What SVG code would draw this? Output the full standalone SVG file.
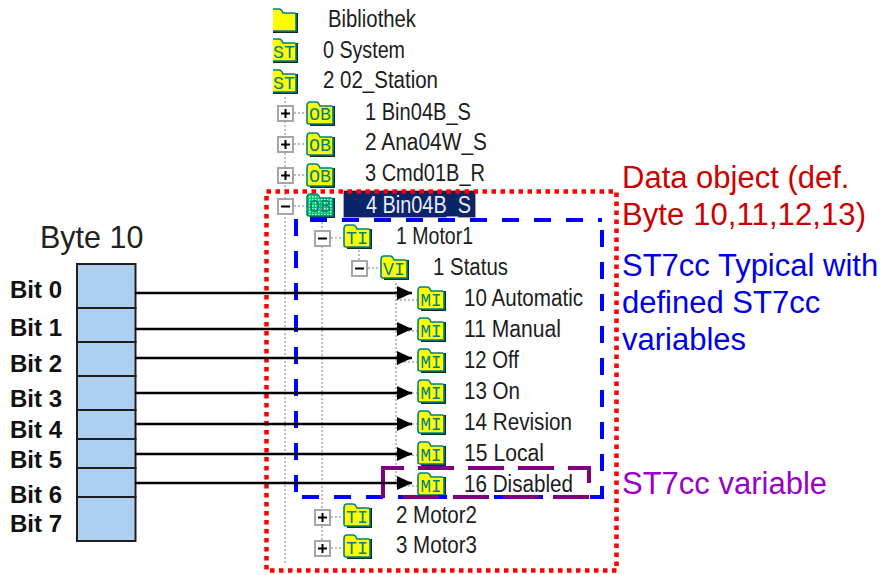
<svg xmlns="http://www.w3.org/2000/svg" width="880" height="575" viewBox="0 0 880 575">
<style>
text{font-family:"Liberation Sans",Arial,sans-serif}
.t{font-size:23px;fill:#1c1c1c}
.il{font-family:"Liberation Mono",monospace;font-size:19px;fill:#008080;text-anchor:middle;transform:translateY(-1.500px)}
.bit{font-size:24px;font-weight:bold;fill:#111}
.cell{fill:#aed0f0;stroke:#1e1e1e;stroke-width:2}
.big{font-size:31px}
.dot{stroke:#a8a8a8;stroke-width:1.5;stroke-dasharray:2 2;fill:none}
.box{fill:#fff;stroke:#a6a6a6;stroke-width:2}
.sign{stroke:#000;stroke-width:2;fill:none}
.conn{stroke:#000;stroke-width:2.500;fill:none;marker-end:url(#arr)}
.blue{stroke:#0000ff;stroke-width:4;fill:none;stroke-dasharray:17 15}
.pur{stroke:#800080;stroke-width:4;fill:none;stroke-dasharray:36 14}
</style>
<defs>
<marker id="arr" markerUnits="userSpaceOnUse" markerWidth="16" markerHeight="16" refX="15" refY="7" orient="auto"><path d="M0 0L15 7L0 14Z" fill="#000"/></marker>
<g id="folder">
<path d="M27 5H29V25H4V23H27Z" fill="#062f2f"/>
<path d="M1 5Q1 1 4 1H10Q12 1 13 3L14 5H25Q27 5 27 7V23H3Q1 23 1 21Z" fill="#ffff00" stroke="#008080" stroke-width="1.6"/>
</g>
<pattern id="dith" width="3" height="3" patternUnits="userSpaceOnUse"><rect width="3" height="3" fill="#00c864"/><rect width="1.5" height="1.5" fill="#d8ffe8"/></pattern>
<g id="folderG">
<path d="M27 5H29V25H4V23H27Z" fill="#062f2f"/>
<path d="M1 5Q1 1 4 1H10Q12 1 13 3L14 5H25Q27 5 27 7V23H3Q1 23 1 21Z" fill="url(#dith)" stroke="#008080" stroke-width="1.6"/>
</g>
<clipPath id="cl"><rect x="273" y="0" width="30" height="100"/></clipPath>
</defs>
<rect width="880" height="575" fill="#fff"/>

<g id="tree-lines" class="dot">
<path d="M285 97V563M322 218V541M359 250V262M396 283V484"/>
<path d="M294 113H307M294 144H307M294 175H307M294 206H307M331 238H343M368 268H380M331 517H343M331 548H343M396 300H417M396 331H417M396 362H417M396 393H417M396 424H417M396 455H417M396 486H417"/>
</g>

<g id="n-bibliothek" clip-path="url(#cl)"><use href="#folder" x="269" y="8"/></g>
<g id="n-bibliothek-label"><text class="t" x="328" y="27" textLength="88" lengthAdjust="spacingAndGlyphs">Bibliothek</text></g>
<g id="n-system"><g clip-path="url(#cl)"><use href="#folder" x="269" y="38"/><text class="il" x="284" y="59" textLength="22" lengthAdjust="spacingAndGlyphs">ST</text></g><text class="t" x="323" y="58" textLength="82" lengthAdjust="spacingAndGlyphs">0 System</text></g>
<g id="n-station"><g clip-path="url(#cl)"><use href="#folder" x="269" y="69"/><text class="il" x="284" y="90" textLength="22" lengthAdjust="spacingAndGlyphs">ST</text></g><text class="t" x="323" y="88" textLength="115" lengthAdjust="spacingAndGlyphs">2 02_Station</text></g>

<g id="n-bin04b-s-1"><rect class="box" x="278" y="106" width="15" height="15"/><path class="sign" d="M281 113.500H290M285.500 109V118"/><use href="#folder" x="306" y="101"/><text class="il" x="320" y="121" textLength="22" lengthAdjust="spacingAndGlyphs">OB</text><text class="t" x="365" y="120" textLength="106" lengthAdjust="spacingAndGlyphs">1 Bin04B_S</text></g>
<g id="n-ana04w-s"><rect class="box" x="278" y="137" width="15" height="15"/><path class="sign" d="M281 144.500H290M285.500 140V149"/><use href="#folder" x="306" y="132"/><text class="il" x="320" y="152" textLength="22" lengthAdjust="spacingAndGlyphs">OB</text><text class="t" x="365" y="150" textLength="122" lengthAdjust="spacingAndGlyphs">2 Ana04W_S</text></g>
<g id="n-cmd01b-r"><rect class="box" x="278" y="168" width="15" height="15"/><path class="sign" d="M281 175.500H290M285.500 171V180"/><use href="#folder" x="306" y="163"/><text class="il" x="320" y="183" textLength="22" lengthAdjust="spacingAndGlyphs">OB</text><text class="t" x="365" y="181" textLength="120" lengthAdjust="spacingAndGlyphs">3 Cmd01B_R</text></g>
<g id="n-bin04b-s-4"><rect class="box" x="278" y="199" width="15" height="15"/><path class="sign" d="M281 206.500H290"/><use href="#folderG" x="306" y="193"/><text class="il" x="320" y="213" textLength="22" lengthAdjust="spacingAndGlyphs">OB</text><rect x="343.500" y="190.500" width="132" height="27" fill="#0a246a" stroke="#d8c070" stroke-width="1" stroke-dasharray="1 1"/><text class="t" x="366" y="213" textLength="105" lengthAdjust="spacingAndGlyphs" style="fill:#e8ecf6">4 Bin04B_S</text></g>
<g id="n-motor1"><rect class="box" x="315" y="231" width="15" height="15"/><path class="sign" d="M318 238.500H327"/><use href="#folder" x="343" y="224"/><text class="il" x="357" y="245" textLength="22" lengthAdjust="spacingAndGlyphs">TI</text><text class="t" x="396" y="244" textLength="77" lengthAdjust="spacingAndGlyphs">1 Motor1</text></g>
<g id="n-status"><rect class="box" x="352" y="261" width="15" height="15"/><path class="sign" d="M355 268.500H364"/><use href="#folder" x="380" y="255"/><text class="il" x="394" y="276" textLength="22" lengthAdjust="spacingAndGlyphs">VI</text><text class="t" x="433" y="275" textLength="75" lengthAdjust="spacingAndGlyphs">1 Status</text></g>
<g id="n-automatic"><use href="#folder" x="417" y="286"/><text class="il" x="431" y="307" textLength="21" lengthAdjust="spacingAndGlyphs">MI</text><text class="t" x="464" y="306" textLength="119" lengthAdjust="spacingAndGlyphs">10 Automatic</text></g>
<g id="n-manual"><use href="#folder" x="417" y="317"/><text class="il" x="431" y="338" textLength="21" lengthAdjust="spacingAndGlyphs">MI</text><text class="t" x="464" y="337" textLength="97" lengthAdjust="spacingAndGlyphs">11 Manual</text></g>
<g id="n-off"><use href="#folder" x="417" y="348"/><text class="il" x="431" y="369" textLength="21" lengthAdjust="spacingAndGlyphs">MI</text><text class="t" x="464" y="368" textLength="55" lengthAdjust="spacingAndGlyphs">12 Off</text></g>
<g id="n-on"><use href="#folder" x="417" y="379"/><text class="il" x="431" y="400" textLength="21" lengthAdjust="spacingAndGlyphs">MI</text><text class="t" x="464" y="399" textLength="56" lengthAdjust="spacingAndGlyphs">13 On</text></g>
<g id="n-revision"><use href="#folder" x="417" y="410"/><text class="il" x="431" y="431" textLength="21" lengthAdjust="spacingAndGlyphs">MI</text><text class="t" x="464" y="430" textLength="108" lengthAdjust="spacingAndGlyphs">14 Revision</text></g>
<g id="n-local"><use href="#folder" x="417" y="441"/><text class="il" x="431" y="462" textLength="21" lengthAdjust="spacingAndGlyphs">MI</text><text class="t" x="464" y="461" textLength="80" lengthAdjust="spacingAndGlyphs">15 Local</text></g>
<g id="n-disabled"><use href="#folder" x="417" y="472"/><text class="il" x="431" y="493" textLength="21" lengthAdjust="spacingAndGlyphs">MI</text><text class="t" x="464" y="492" textLength="109" lengthAdjust="spacingAndGlyphs">16 Disabled</text></g>
<g id="n-motor2"><rect class="box" x="315" y="510" width="15" height="15"/><path class="sign" d="M318 517.500H327M322.500 513V522"/><use href="#folder" x="343" y="503"/><text class="il" x="357" y="524" textLength="22" lengthAdjust="spacingAndGlyphs">TI</text><text class="t" x="396" y="523" textLength="81" lengthAdjust="spacingAndGlyphs">2 Motor2</text></g>
<g id="n-motor3"><rect class="box" x="315" y="541" width="15" height="15"/><path class="sign" d="M318 548.500H327M322.500 544V553"/><use href="#folder" x="343" y="534"/><text class="il" x="357" y="555" textLength="22" lengthAdjust="spacingAndGlyphs">TI</text><text class="t" x="396" y="553" textLength="81" lengthAdjust="spacingAndGlyphs">3 Motor3</text></g>

<g id="byte10">
<text x="40" y="248" font-size="30.500" fill="#222">Byte 10</text>
<rect class="cell" x="77" y="264" width="58.500" height="44"/>
<rect class="cell" x="77" y="308" width="58.500" height="34"/>
<rect class="cell" x="77" y="342" width="58.500" height="34"/>
<rect class="cell" x="77" y="376" width="58.500" height="34"/>
<rect class="cell" x="77" y="410" width="58.500" height="29"/>
<rect class="cell" x="77" y="439" width="58.500" height="29"/>
<rect class="cell" x="77" y="468" width="58.500" height="29"/>
<rect class="cell" x="77" y="497" width="58.500" height="44"/>
<text class="bit" x="10" y="298">Bit 0</text>
<text class="bit" x="10" y="336">Bit 1</text>
<text class="bit" x="10" y="372">Bit 2</text>
<text class="bit" x="10" y="407">Bit 3</text>
<text class="bit" x="10" y="438">Bit 4</text>
<text class="bit" x="10" y="468">Bit 5</text>
<text class="bit" x="10" y="503">Bit 6</text>
<text class="bit" x="10" y="532">Bit 7</text>
</g>

<g id="frames">
<rect x="266.500" y="191.500" width="350" height="379" fill="none" stroke="#ff0000" stroke-width="4.500" stroke-dasharray="4.500 4.500"/>
<path class="blue" d="M296 219V497"/>
<path class="blue" d="M310 220H602"/>
<path class="blue" stroke-dashoffset="-10" d="M602 220V497"/>
<path class="blue" d="M302 497H604"/>
<path class="pur" style="stroke-dasharray:none" d="M383 498V468H404"/>
<path class="pur" d="M418 468H589V483"/>
<path class="pur" d="M403 497H589"/>
</g>

<g id="connectors">
<path class="conn" d="M135 293H412"/>
<path class="conn" d="M135 329H412"/>
<path class="conn" d="M135 358H412"/>
<path class="conn" d="M135 393H412"/>
<path class="conn" d="M135 424H412"/>
<path class="conn" d="M135 454H412"/>
<path class="conn" d="M135 483H412"/>
</g>

<g id="legend">
<text class="big" x="622" y="188" fill="#cc0000">Data object (def.</text>
<text class="big" x="622" y="225" textLength="244" fill="#cc0000">Byte 10,11,12,13)</text>
<text class="big" x="622" y="276" fill="#0000e6">ST7cc Typical with</text>
<text class="big" x="622" y="313" fill="#0000e6">defined ST7cc</text>
<text class="big" x="622" y="350" fill="#0000e6">variables</text>
<text class="big" x="622" y="494" fill="#9900cc">ST7cc variable</text>
</g>
</svg>
